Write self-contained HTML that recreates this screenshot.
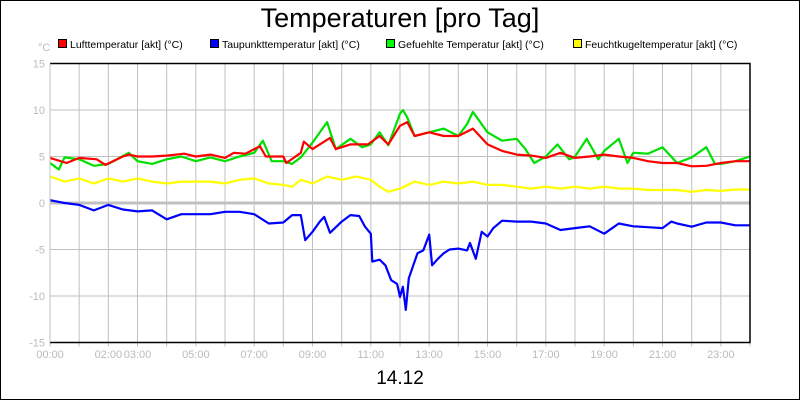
<!DOCTYPE html>
<html><head><meta charset="utf-8"><style>
body{margin:0;background:#fff;}
svg{display:block;font-family:"Liberation Sans",sans-serif;}
</style></head><body>
<svg id="chart" width="800" height="400" viewBox="0 0 800 400">
<rect x="0.5" y="0.5" width="799" height="399" fill="#fff" stroke="#000"/>
<text x="400" y="27" font-size="27" text-anchor="middle" fill="#000">Temperaturen [pro Tag]</text>
<g id="legend" font-size="10.5" fill="#000">
<g><rect x="58.5" y="39.5" width="8" height="8" fill="#f00" stroke="#000"/><text x="70" y="48">Lufttemperatur [akt] (°C)</text></g>
<g><rect x="210.5" y="39.5" width="8" height="8" fill="#00f" stroke="#000"/><text x="222" y="48">Taupunkttemperatur [akt] (°C)</text></g>
<g><rect x="386.5" y="39.5" width="8" height="8" fill="#0f0" stroke="#000"/><text x="398" y="48">Gefuehlte Temperatur [akt] (°C)</text></g>
<g><rect x="573.5" y="39.5" width="8" height="8" fill="#ff0" stroke="#000"/><text x="585" y="48">Feuchtkugeltemperatur [akt] (°C)</text></g>
</g>
<text x="38" y="51" font-size="11" fill="#bbb">°C</text>
<g id="grid"></g>
<g id="series"></g>
<g id="axes"></g>
<text x="400" y="384" font-size="19" text-anchor="middle" fill="#000">14.12</text>
</svg>
<script>
const yTicks=[15,10,5,0,-5,-10,-15];
const xTickLabels=["00:00","","02:00","03:00","","05:00","","07:00","","09:00","","11:00","","13:00","","15:00","","17:00","","19:00","","21:00","","23:00",""];
const luftHours=[0,0.57,1,1.6,1.9,2.5,2.7,3,3.5,4,4.6,5,5.5,6,6.3,6.7,7,7.2,7.4,8,8.1,8.6,8.7,9,9.6,9.8,10.3,10.9,11.3,11.6,12,12.25,12.5,13,13.5,14,14.5,15,15.5,16,16.5,17,17.5,18,18.5,19,19.5,20,20.5,21,21.5,22,22.5,23,23.5,24];
const luftVals=[4.85,4.3,4.85,4.7,4.1,5.0,5.2,5.0,5.0,5.1,5.3,5.0,5.2,4.85,5.4,5.3,5.8,6.1,5.0,5.0,4.3,5.4,6.6,5.8,7.0,5.8,6.3,6.3,7.2,6.3,8.3,8.7,7.2,7.6,7.2,7.2,8.0,6.3,5.6,5.2,5.1,4.85,5.4,4.85,5.0,5.2,5.0,4.85,4.5,4.3,4.3,3.95,4.0,4.3,4.5,4.5];
const gefHours=[0,0.3,0.5,1,1.5,2,2.7,3,3.5,4,4.5,5,5.5,6,6.5,7,7.3,7.6,8,8.3,8.6,9,9.5,9.8,10.3,10.7,11,11.3,11.6,12,12.1,12.25,12.5,13,13.5,14,14.3,14.5,15,15.5,16,16.3,16.6,17,17.4,17.8,18,18.4,18.8,19,19.5,19.8,20,20.5,21,21.5,22,22.5,22.8,23,23.5,24];
const gefVals=[4.3,3.6,4.9,4.7,4.0,4.2,5.4,4.5,4.2,4.7,5.0,4.5,4.9,4.5,5.0,5.4,6.7,4.5,4.5,4.2,4.9,6.5,8.7,5.8,6.9,6.0,6.3,7.6,6.2,9.6,10.0,9.2,7.2,7.6,8.0,7.2,8.5,9.8,7.6,6.7,6.9,5.8,4.3,5.0,6.3,4.7,5.0,6.9,4.7,5.6,6.9,4.3,5.4,5.3,6.0,4.3,4.9,6.0,4.2,4.2,4.5,5.0];
const feuchtHours=[0,0.5,1,1.5,2,2.5,3,3.5,4,4.5,5,5.5,6,6.5,7,7.5,8,8.3,8.6,9,9.5,10,10.5,11,11.3,11.6,12,12.5,13,13.5,14,14.5,15,15.5,16,16.5,17,17.5,18,18.5,19,19.5,20,20.5,21,21.5,22,22.5,23,23.5,24];
const feuchtVals=[2.85,2.3,2.65,2.1,2.65,2.3,2.65,2.3,2.1,2.3,2.3,2.3,2.1,2.5,2.65,2.1,1.95,1.75,2.5,2.1,2.85,2.5,2.85,2.5,1.75,1.2,1.55,2.3,1.95,2.3,2.1,2.3,1.95,1.95,1.75,1.55,1.75,1.55,1.75,1.55,1.75,1.55,1.55,1.4,1.4,1.4,1.2,1.4,1.3,1.45,1.45];
const taupHours=[0,0.5,1,1.5,2,2.5,3,3.5,4,4.5,5,5.5,6,6.5,7,7.5,8,8.3,8.6,8.75,9,9.25,9.4,9.6,10,10.3,10.6,10.8,11,11.05,11.3,11.5,11.7,11.9,12,12.1,12.2,12.3,12.6,12.8,13,13.1,13.3,13.5,13.7,14,14.3,14.4,14.6,14.8,15,15.2,15.5,16,16.5,17,17.5,18,18.5,19,19.5,20,20.5,21,21.3,21.5,22,22.5,23,23.5,24];
const taupVals=[0.3,0,-0.2,-0.8,-0.2,-0.7,-0.9,-0.8,-1.75,-1.2,-1.2,-1.2,-0.95,-0.95,-1.2,-2.2,-2.1,-1.3,-1.3,-4.0,-3.1,-2.0,-1.5,-3.2,-2.0,-1.3,-1.4,-2.55,-3.3,-6.3,-6.1,-6.7,-8.3,-8.7,-10.1,-9.0,-11.5,-8.1,-5.4,-5.1,-3.4,-6.7,-6.0,-5.4,-5.0,-4.9,-5.1,-4.3,-6.0,-3.1,-3.6,-2.7,-1.9,-2.0,-2.0,-2.2,-2.9,-2.7,-2.5,-3.3,-2.2,-2.5,-2.6,-2.7,-2.0,-2.2,-2.55,-2.1,-2.1,-2.4,-2.4];

const X0=50,X1=750,Y0=63.5,Y1=342.5;
const xs=h=>X0+(X1-X0)*h/24;
const ys=v=>Y0+(Y1-Y0)*(15-v)/30;
const NS="http://www.w3.org/2000/svg";
function mk(tag,attrs,parent){const e=document.createElementNS(NS,tag);for(const k in attrs)e.setAttribute(k,attrs[k]);parent.appendChild(e);return e;}
const grid=document.getElementById('grid'),axes=document.getElementById('axes'),series=document.getElementById('series');
for(let h=1;h<24;h++){
  const l=mk('line',{x1:xs(h),x2:xs(h),y1:Y0,y2:Y1,stroke:'#c0c0c0','stroke-width':1},grid);
  
  
}
yTicks.forEach(v=>{
  const l=mk('line',{x1:X0,x2:X1,y1:ys(v),y2:ys(v),stroke:'#c0c0c0','stroke-width':v===0?3:1},grid);
  
  
  const t=mk('text',{x:45,y:ys(v)+4,'font-size':11,fill:'#bbb','text-anchor':'end'},axes);
  t.textContent=v;
  
  
});
xTickLabels.forEach((lab,h)=>{
  const tk=mk('line',{x1:xs(h),x2:xs(h),y1:Y1,y2:Y1+4,stroke:'#c0c0c0'},axes);
  
  
  if(lab){
    const t=mk('text',{x:xs(h),y:358,'font-size':11,fill:'#bbb','text-anchor':'middle'},axes);
    t.textContent=lab;
    
    
  }
});
const fr=mk('path',{d:`M${X0} ${Y0}H${X1}V${Y1}H${X0}`,fill:'none',stroke:'#000','stroke-width':1.5},axes);


const fl=mk('line',{x1:X0,x2:X0,y1:Y0,y2:Y1,stroke:'#c0c0c0'},axes);


function line(hours,vals,color,name){
  const d=hours.map((h,i)=>(i?'L':'M')+xs(h).toFixed(1)+' '+ys(vals[i]).toFixed(1)).join('');
  const p=mk('path',{d:d,fill:'none',stroke:color,'stroke-width':2.2,'stroke-linejoin':'round'},series);
  
  
}
line(feuchtHours,feuchtVals,'#ffff00','series-feuchtkugeltemperatur');
line(gefHours,gefVals,'#00e000','series-gefuehlte-temperatur');
line(luftHours,luftVals,'#ff0000','series-lufttemperatur');
line(taupHours,taupVals,'#0000ff','series-taupunkttemperatur');
</script>
</body></html>
